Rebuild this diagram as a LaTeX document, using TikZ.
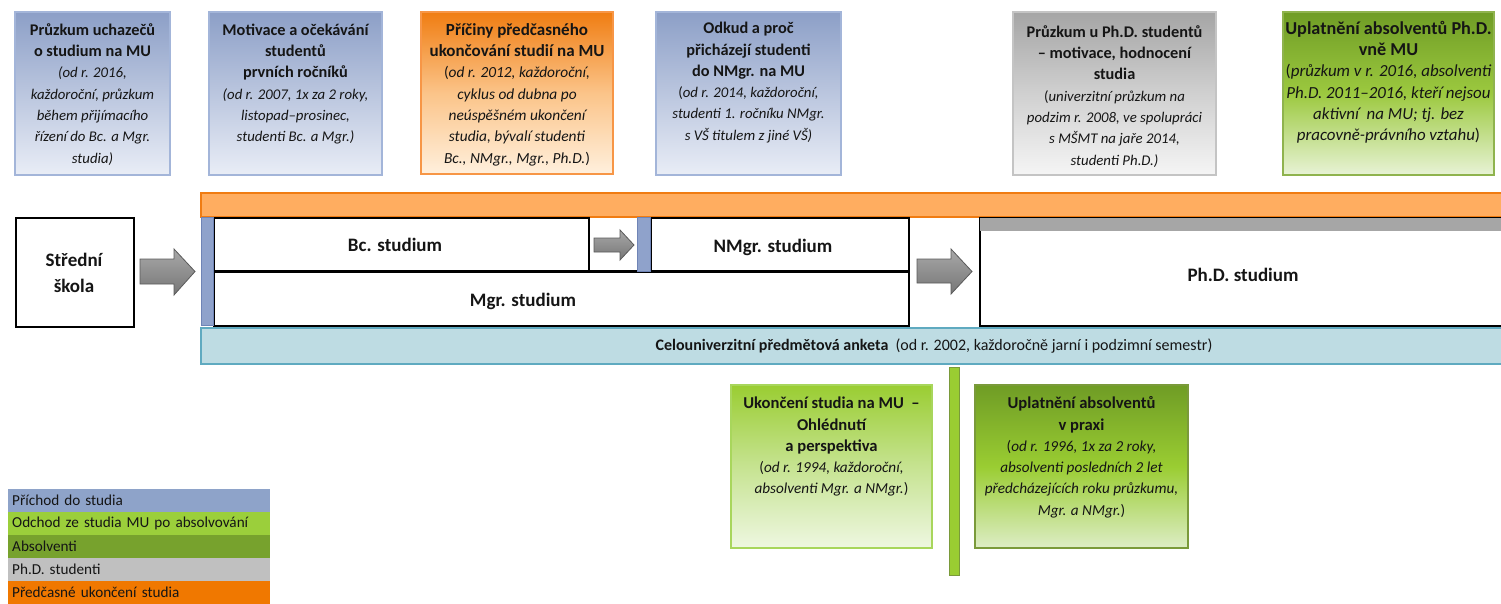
\documentclass[tikz,border=0pt]{standalone}
\usepackage{fontspec}
\setmainfont{Carlito}
\definecolor{blueTop}{HTML}{8C9FC7}
\definecolor{blueBot}{HTML}{E9EDF6}
\definecolor{blueBd}{HTML}{A3B5D9}
\definecolor{orTop}{HTML}{F07D12}
\definecolor{orMid}{HTML}{FBC489}
\definecolor{orBot}{HTML}{FFF0DD}
\definecolor{orBd}{HTML}{F79646}
\definecolor{grTop}{HTML}{A5A5A5}
\definecolor{grMid}{HTML}{D0D0D0}
\definecolor{grBot}{HTML}{F5F5F5}
\definecolor{grBd}{HTML}{C4C4C4}
\definecolor{dgTop}{HTML}{6F9C25}
\definecolor{dgMid}{HTML}{9CC93F}
\definecolor{dgBot}{HTML}{E8F3D6}
\definecolor{dgBd}{HTML}{8FB34E}
\definecolor{lgTop}{HTML}{9ACD32}
\definecolor{lgMid}{HTML}{C6E391}
\definecolor{lgBot}{HTML}{EEF7E1}
\definecolor{lgBd}{HTML}{A8D65C}
\definecolor{ugBd}{HTML}{7A9A3A}
\definecolor{ugBot}{HTML}{DDEDC5}
\definecolor{barBlue}{HTML}{8FA2CB}
\definecolor{barBlueBd}{HTML}{6F84B6}
\definecolor{bandOr}{HTML}{FFAD60}
\definecolor{bandOrBd}{HTML}{F07C12}
\definecolor{bandBl}{HTML}{BEDCE3}
\definecolor{bandBlBd}{HTML}{5FAAC0}
\definecolor{stripGray}{HTML}{A6A6A6}
\definecolor{arrTop}{HTML}{A8A8A8}
\definecolor{arrBot}{HTML}{767676}
\definecolor{arrBd}{HTML}{5A5A5A}
\definecolor{legBlue}{HTML}{8EA3C9}
\definecolor{legLight}{HTML}{9BCF3B}
\definecolor{legDark}{HTML}{77A22D}
\definecolor{legGray}{HTML}{C0C0C0}
\definecolor{legOr}{HTML}{F07800}
\definecolor{txt}{HTML}{151515}
\newcommand\mytitle[2][16.3]{{\fontsize{#1}{21.3}\selectfont\bfseries #2}}
\newcommand\mynote[2][14.8]{{\fontsize{#1}{21.3}\selectfont\itshape #2}}
\newcommand\myup[2][14.8]{{\fontsize{#1}{21.3}\selectfont #2}}
\newcommand\firstrow{\rule{0pt}{16pt}}
\tikzset{
  surveybox/.style={rectangle, line width=1.2pt, inner sep=0pt},
  bluebox/.style={surveybox, draw=blueBd, top color=blueTop, bottom color=blueBot},
  orangebox/.style={surveybox, draw=orBd, top color=orTop, bottom color=orBot, middle color=orMid},
  graybox/.style={surveybox, draw=grBd, top color=grTop, bottom color=grBot, middle color=grMid},
  darkgreenbox/.style={surveybox, draw=dgBd, top color=dgTop, bottom color=dgBot, middle color=dgMid},
  lightgreenbox/.style={surveybox, draw=lgBd, top color=lgTop, bottom color=lgBot, middle color=lgMid},
  praxbox/.style={surveybox, draw=ugBd, top color=dgTop, bottom color=ugBot, middle color=lgTop},
  boxtext/.style={anchor=north, align=center, inner sep=0pt, text=txt, font=\fontsize{16.3}{21.3}\selectfont},
  studybox/.style={rectangle, draw=black, line width=1.5pt, fill=white, inner sep=0pt, anchor=north west},
  studylabel/.style={inner sep=0pt, text=txt, font=\fontsize{19}{26}\selectfont\bfseries, align=center},
  bar/.style={rectangle, inner sep=0pt, anchor=north west},
  blockarrow/.style={draw=arrBd, line width=0.8pt, top color=arrTop, bottom color=arrBot},
  legrow/.style={rectangle, inner sep=0pt, anchor=west, minimum width=262pt, minimum height=22.5pt, text width=254pt, align=left, text=txt, font=\fontsize{15.2}{18}\selectfont, inner xsep=4pt}
}
\begin{document}
\begin{tikzpicture}[x=1pt,y=-1pt]
\useasboundingbox (0,0) rectangle (1501,603);
\clip (0,0) rectangle (1501,603);

% ---------- top survey boxes ----------
\node[bluebox, minimum width=155pt, minimum height=163pt] (b1) at (92.5,93.5) {};
\node[boxtext] (b1t) at (92.5,19) {\firstrow\mytitle{Průzkum uchazečů}\\
  \mytitle{o studium na MU}\\
  \mynote{(od r. 2016,}\\
  \mynote{každoroční, průzkum}\\
  \mynote{během přijímacího}\\
  \mynote{řízení do Bc. a Mgr.}\\
  \mynote{studia)}};

\node[bluebox, minimum width=173pt, minimum height=163pt] (b2) at (295.5,93.5) {};
\node[boxtext] (b2t) at (295.5,19) {\firstrow\mytitle{Motivace a očekávání}\\
  \mytitle{studentů}\\
  \mytitle{prvních ročníků}\\
  \mynote{(od r. 2007, 1x za 2 roky,}\\
  \mynote{listopad–prosinec,}\\
  \mynote{studenti Bc. a Mgr.)}};

\node[orangebox, minimum width=192pt, minimum height=162pt] (b3) at (517,93) {};
\node[boxtext] (b3t) at (517,19) {\firstrow\mytitle[17]{Příčiny předčasného}\\
  \mytitle[17]{ukončování studií na MU}\\
  \myup[15.4]{(}\mynote[15.4]{od r. 2012, každoroční,}\\
  \mynote[15.4]{cyklus od dubna po}\\
  \mynote[15.4]{neúspěšném ukončení}\\
  \mynote[15.4]{studia, bývalí studenti}\\
  \mynote[15.4]{Bc., NMgr., Mgr., Ph.D.}\myup[15.4]{)}};

\node[bluebox, minimum width=185pt, minimum height=163pt] (b4) at (748.5,93.5) {};
\node[boxtext] (b4t) at (748.5,17.5) {\firstrow\mytitle{Odkud a proč}\\
  \mytitle{přicházejí studenti}\\
  \mytitle{do NMgr. na MU}\\
  \myup{(}\mynote{od r. 2014, každoroční,}\\
  \mynote{studenti 1. ročníku NMgr.}\\
  \mynote{s VŠ titulem z jiné VŠ)}};

\node[graybox, minimum width=203pt, minimum height=163pt] (b5) at (1114.5,93.5) {};
\node[boxtext] (b5t) at (1114.5,21) {\firstrow\mytitle{Průzkum u Ph.D. studentů}\\
  \mytitle{– motivace, hodnocení}\\
  \mytitle{studia}\\
  \myup{(}\mynote{univerzitní průzkum na}\\
  \mynote{podzim r. 2008, ve spolupráci}\\
  \mynote{s MŠMT na jaře 2014,}\\
  \mynote{studenti Ph.D.)}};

\node[darkgreenbox, minimum width=211pt, minimum height=163pt] (b6) at (1388.5,93.5) {};
\node[boxtext] (b6t) at (1388.5,18) {\firstrow\mytitle[18.2]{Uplatnění absolventů Ph.D.}\\
  \mytitle[18.2]{vně MU}\\
  \myup[16.9]{(}\mynote[16.9]{průzkum v r. 2016, absolventi}\\
  \mynote[16.9]{Ph.D. 2011–2016, kteří nejsou}\\
  \mynote[16.9]{aktivní\ \ na MU; tj. bez}\\
  \mynote[16.9]{pracovně-právního vztahu}\myup[16.9]{)}};

% ---------- study structure ----------
\node[bar, draw=bandOrBd, fill=bandOr, line width=1.5pt, minimum width=1320pt, minimum height=24pt] (orband) at (200,192) {};

\node[studybox, minimum width=118pt, minimum height=109pt] (skola) at (15,217) {};
\node[studylabel] (skolat) at (74,273) {Střední\\škola};

\node[studybox, minimum width=695pt, minimum height=54pt] (mgr) at (213,271) {};
\node[studybox, minimum width=375pt, minimum height=54pt] (bc) at (213,217) {};
\node[studybox, minimum width=258pt, minimum height=54pt] (nmgr) at (650,217) {};
\draw[line width=3pt] (mgr.north west) -- (mgr.north east);

\node[studybox, minimum width=545pt, minimum height=108pt] (phd) at (979,217) {};
\node[bar, fill=stripGray, minimum width=540pt, minimum height=13pt] (phdstrip) at (980,218) {};

\node[bar, draw=barBlueBd, fill=barBlue, line width=1pt, minimum width=12pt, minimum height=108pt] (bar1) at (201,217) {};
\node[bar, draw=barBlueBd, fill=barBlue, line width=1pt, minimum width=13pt, minimum height=54pt] (bar2) at (637,217) {};

\node[studylabel] (bct) at (395,245) {Bc. studium};
\node[studylabel] (nmgrt) at (773,247) {NMgr. studium};
\node[studylabel] (mgrt) at (523,301) {Mgr. studium};
\node[studylabel] (phdt) at (1243,275) {Ph.D. studium};

\node[bar, draw=bandBlBd, fill=bandBl, line width=1.5pt, minimum width=1320pt, minimum height=36pt] (celband) at (200,327) {};
\node[inner sep=0pt, text=txt, font=\fontsize{16}{20}\selectfont] (celt) at (934,346)
  {\textbf{Celouniverzitní předmětová anketa}\ \ (od r. 2002, každoročně jarní i podzimní semestr)};

% ---------- block arrows ----------
\draw[blockarrow] (140,259) -- (174,259) -- (174,249) -- (195,271.5) -- (174,295) -- (174,284) -- (140,284) -- cycle;
\draw[blockarrow] (594,238) -- (620,238) -- (620,230) -- (634,245) -- (620,260) -- (620,252) -- (594,252) -- cycle;
\draw[blockarrow] (917,259) -- (951,259) -- (951,249) -- (972,271.5) -- (951,294) -- (951,283) -- (917,283) -- cycle;

% ---------- bottom boxes ----------
\node[bar, draw=ugBd, fill=lgTop, line width=1pt, minimum width=10pt, minimum height=208pt] (gbar) at (949,367) {};

\node[lightgreenbox, minimum width=201pt, minimum height=163pt] (u1) at (831.5,466.5) {};
\node[boxtext] (u1t) at (831.5,392.5) {\firstrow\mytitle[16.6]{Ukončení studia na MU\ \ –}\\
  \mytitle[16.6]{Ohlédnutí}\\
  \mytitle[16.6]{a perspektiva}\\
  \myup[15.2]{(}\mynote[15.2]{od r. 1994, každoroční,}\\
  \mynote[15.2]{absolventi Mgr. a NMgr.}\myup[15.2]{)}};

\node[praxbox, minimum width=213pt, minimum height=163pt] (u2) at (1081.5,466.5) {};
\node[boxtext] (u2t) at (1081.5,392.5) {\firstrow\mytitle[16.6]{Uplatnění absolventů}\\
  \mytitle[16.6]{v praxi}\\
  \myup[15.2]{(}\mynote[15.2]{od r. 1996, 1x za 2 roky,}\\
  \mynote[15.2]{absolventi posledních 2 let}\\
  \mynote[15.2]{předcházejících roku průzkumu,}\\
  \mynote[15.2]{Mgr. a NMgr.}\myup[15.2]{)}};

% ---------- legend ----------
\node[legrow, fill=legBlue] (l1) at (8,500.5) {Příchod do studia};
\node[legrow, fill=legLight] (l2) at (8,523.5) {Odchod ze studia MU po absolvování};
\node[legrow, fill=legDark] (l3) at (8,546.5) {Absolventi};
\node[legrow, fill=legGray] (l4) at (8,569.5) {Ph.D. studenti};
\node[legrow, fill=legOr] (l5) at (8,592.5) {Předčasné ukončení studia};
\end{tikzpicture}
\end{document}
